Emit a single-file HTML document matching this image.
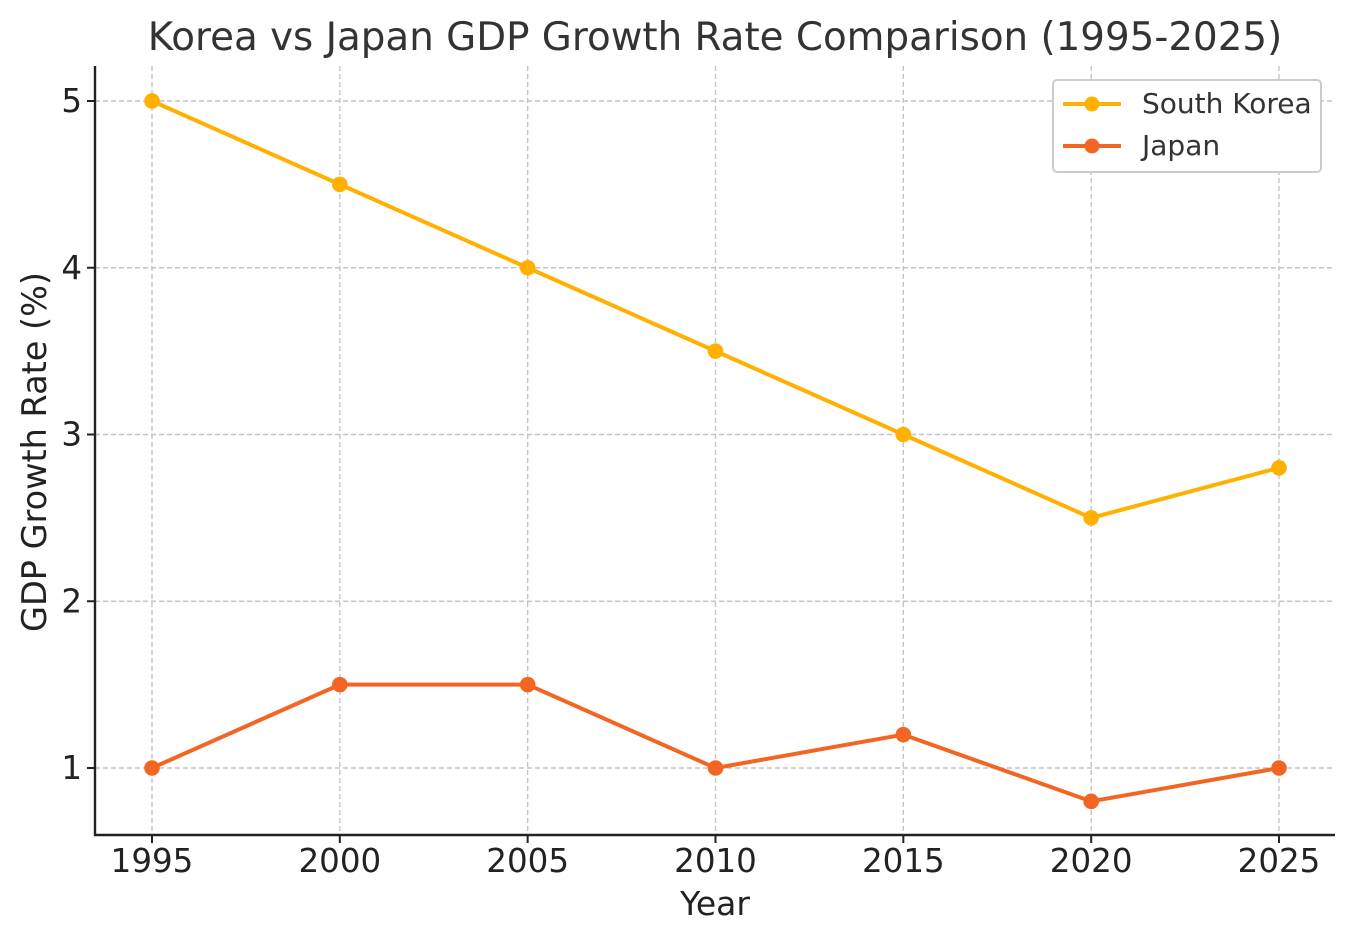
<!DOCTYPE html>
<html><head><meta charset="utf-8"><style>
body{margin:0;background:#fff}
svg text{font-family:"DejaVu Sans","Liberation Sans",sans-serif;fill:#222}
</style></head><body>
<svg id="chart" width="1355" height="943" xmlns="http://www.w3.org/2000/svg">
<text x="715" y="50" text-anchor="middle" font-size="38.8" style="fill:#333">Korea vs Japan GDP Growth Rate Comparison (1995-2025)</text>
<g id="grid"></g>
<g id="axes"></g>
<g id="series"></g>
<text x="715" y="915" text-anchor="middle" font-size="33">Year</text>
<text transform="translate(46,452) rotate(-90)" text-anchor="middle" font-size="33.5">GDP Growth Rate (%)</text>
<g>
<rect x="1053" y="80" width="268" height="92" rx="4" fill="#fff" stroke="#ccc" stroke-width="2"/>
<line x1="1063" y1="104" x2="1121" y2="104" stroke="#FFB000" stroke-width="4"/>
<circle cx="1092" cy="104" r="7.5" fill="#FFB000"/>
<text x="1142" y="113" font-size="28" style="fill:#333">South Korea</text>
<line x1="1063" y1="146" x2="1121" y2="146" stroke="#F26522" stroke-width="4"/>
<circle cx="1092" cy="146" r="7.5" fill="#F26522"/>
<text x="1142" y="155" font-size="28" style="fill:#333">Japan</text>
</g>
</svg>
<script>
const years=[1995,2000,2005,2010,2015,2020,2025];
const korea=[5,4.5,4,3.5,3,2.5,2.8];
const japan=[1,1.5,1.5,1,1.2,0.8,1];
const yTicks=[1,2,3,4,5];
const NS="http://www.w3.org/2000/svg";
const X=v=>152+(v-1995)*(1279-152)/30;
const Y=v=>768-(v-1)*(768-101)/4;
function mk(t,a,p){const e=document.createElementNS(NS,t);for(const k in a)e.setAttribute(k,a[k]);p.appendChild(e);return e;}
const grid=document.getElementById('grid'),axes=document.getElementById('axes'),ser=document.getElementById('series');
years.forEach(y=>{
 const l=mk('line',{x1:X(y),x2:X(y),y1:66,y2:835,stroke:'#c4c4c4','stroke-width':1.4,'stroke-dasharray':'5,3'},grid);
 
 
 mk('line',{x1:X(y),x2:X(y),y1:835,y2:843,stroke:'#222','stroke-width':2},axes);
 const t=mk('text',{x:X(y),y:872,'text-anchor':'middle','font-size':32.5},axes);t.textContent=y;
 
 
});
yTicks.forEach(v=>{
 const l=mk('line',{x1:95,x2:1335,y1:Y(v),y2:Y(v),stroke:'#c4c4c4','stroke-width':1.4,'stroke-dasharray':'5,3'},grid);
 
 
 mk('line',{x1:87,x2:95,y1:Y(v),y2:Y(v),stroke:'#222','stroke-width':2},axes);
 const t=mk('text',{x:82,y:Y(v)+11,'text-anchor':'end','font-size':32.5},axes);t.textContent=v;
 
 
});
mk('line',{x1:95,x2:95,y1:66,y2:836,stroke:'#222','stroke-width':2.4},axes);
mk('line',{x1:94,x2:1335,y1:835,y2:835,stroke:'#222','stroke-width':2.4},axes);
function series(vals,color,name){
 const p=mk('polyline',{points:vals.map((v,i)=>X(years[i])+','+Y(v)).join(' '),fill:'none',stroke:color,'stroke-width':4},ser);
 
 
 vals.forEach((v,i)=>{const c=mk('circle',{cx:X(years[i]),cy:Y(v),r:7.8,fill:color},ser);
 
 });
}
series(korea,'#FFB000','south-korea');
series(japan,'#F26522','japan');
</script>
</body></html>
